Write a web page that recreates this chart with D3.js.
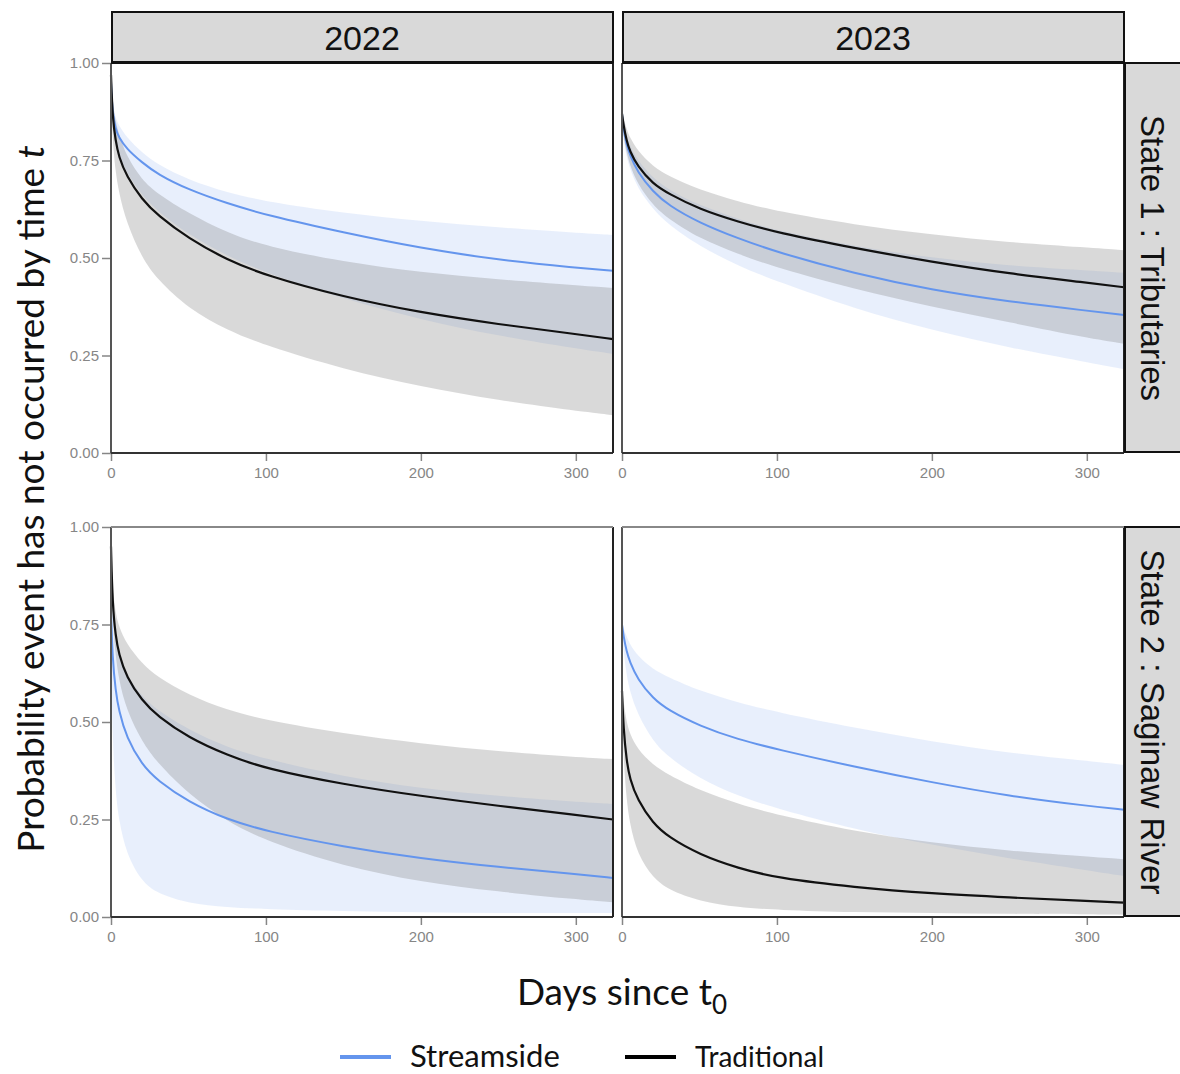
<!DOCTYPE html>
<html>
<head>
<meta charset="utf-8">
<script src="https://cdn.jsdelivr.net/npm/d3@7"></script>
<style>
  body { margin: 0; background: #fff; }
  svg { display: block; }
  .tick text { fill: #868686; font-family: "Liberation Sans", Arial, sans-serif; font-size: 15px; }
  .tick line { stroke: #868686; stroke-width: 1.5; }
</style>
</head>
<body>
<svg id="chart" width="1180" height="1074"></svg>
<script>
var days = [0, 1, 3, 5, 10, 20, 30, 50, 75, 100, 150, 200, 250, 300, 324];

var years = ["2022", "2023"];
var states = ["State 1 : Tributaries", "State 2 : Saginaw River"];
var xTicks = [0, 100, 200, 300];
var yTicks = [0, 0.25, 0.5, 0.75, 1];

// State 1, 2022
var s1y22Stream   = [0.95, 0.87, 0.83, 0.81, 0.78, 0.745, 0.715, 0.675, 0.64, 0.61, 0.565, 0.525, 0.495, 0.475, 0.467];
var s1y22StreamHi = [0.96, 0.89, 0.86, 0.84, 0.81, 0.77, 0.74, 0.70, 0.668, 0.645, 0.615, 0.595, 0.578, 0.565, 0.559];
var s1y22StreamLo = [0.93, 0.83, 0.79, 0.76, 0.72, 0.66, 0.62, 0.56, 0.505, 0.462, 0.395, 0.342, 0.30, 0.268, 0.254];
var s1y22Trad     = [0.97, 0.86, 0.80, 0.76, 0.71, 0.65, 0.61, 0.55, 0.495, 0.455, 0.40, 0.36, 0.33, 0.305, 0.292];
var s1y22TradHi   = [0.98, 0.90, 0.85, 0.82, 0.76, 0.70, 0.665, 0.615, 0.565, 0.53, 0.49, 0.463, 0.445, 0.43, 0.423];
var s1y22TradLo   = [0.95, 0.80, 0.72, 0.67, 0.59, 0.50, 0.445, 0.37, 0.315, 0.275, 0.215, 0.17, 0.135, 0.108, 0.097];

// State 1, 2023
var s1y23Stream   = [0.87, 0.83, 0.79, 0.765, 0.72, 0.67, 0.635, 0.59, 0.55, 0.515, 0.46, 0.418, 0.388, 0.365, 0.354];
var s1y23StreamHi = [0.88, 0.85, 0.81, 0.79, 0.75, 0.705, 0.675, 0.635, 0.60, 0.57, 0.53, 0.50, 0.48, 0.468, 0.462];
var s1y23StreamLo = [0.86, 0.80, 0.76, 0.73, 0.68, 0.625, 0.585, 0.53, 0.48, 0.44, 0.37, 0.315, 0.27, 0.233, 0.215];
var s1y23Trad     = [0.87, 0.84, 0.80, 0.775, 0.735, 0.69, 0.665, 0.625, 0.593, 0.565, 0.525, 0.49, 0.46, 0.437, 0.425];
var s1y23TradHi   = [0.88, 0.86, 0.83, 0.81, 0.775, 0.735, 0.71, 0.675, 0.645, 0.62, 0.585, 0.56, 0.54, 0.527, 0.52];
var s1y23TradLo   = [0.86, 0.81, 0.77, 0.74, 0.69, 0.635, 0.60, 0.55, 0.51, 0.475, 0.42, 0.375, 0.335, 0.295, 0.28];

// State 2, 2022
var s2y22Stream   = [0.79, 0.66, 0.58, 0.53, 0.46, 0.39, 0.35, 0.295, 0.25, 0.22, 0.18, 0.15, 0.128, 0.11, 0.10];
var s2y22StreamHi = [0.80, 0.74, 0.70, 0.67, 0.62, 0.565, 0.53, 0.48, 0.435, 0.405, 0.36, 0.33, 0.31, 0.295, 0.29];
var s2y22StreamLo = [0.70, 0.45, 0.32, 0.25, 0.16, 0.09, 0.06, 0.035, 0.025, 0.02, 0.015, 0.012, 0.01, 0.01, 0.01];
var s2y22Trad     = [0.95, 0.80, 0.72, 0.675, 0.615, 0.555, 0.515, 0.46, 0.415, 0.38, 0.34, 0.31, 0.285, 0.262, 0.25];
var s2y22TradHi   = [0.97, 0.84, 0.78, 0.745, 0.70, 0.65, 0.615, 0.57, 0.53, 0.505, 0.47, 0.445, 0.425, 0.41, 0.405];
var s2y22TradLo   = [0.93, 0.76, 0.67, 0.61, 0.53, 0.45, 0.395, 0.315, 0.245, 0.195, 0.13, 0.09, 0.065, 0.045, 0.038];

// State 2, 2023
var s2y23Stream   = [0.75, 0.72, 0.68, 0.655, 0.61, 0.56, 0.53, 0.49, 0.455, 0.43, 0.385, 0.345, 0.31, 0.285, 0.275];
var s2y23StreamHi = [0.76, 0.74, 0.72, 0.70, 0.67, 0.635, 0.615, 0.58, 0.55, 0.525, 0.485, 0.45, 0.42, 0.40, 0.39];
var s2y23StreamLo = [0.74, 0.68, 0.62, 0.58, 0.52, 0.45, 0.41, 0.355, 0.31, 0.278, 0.225, 0.185, 0.15, 0.12, 0.105];
var s2y23Trad     = [0.58, 0.48, 0.40, 0.355, 0.30, 0.24, 0.205, 0.16, 0.125, 0.10, 0.076, 0.06, 0.05, 0.041, 0.037];
var s2y23TradHi   = [0.60, 0.55, 0.50, 0.47, 0.43, 0.39, 0.365, 0.325, 0.29, 0.262, 0.22, 0.19, 0.17, 0.155, 0.148];
var s2y23TradLo   = [0.55, 0.40, 0.30, 0.24, 0.16, 0.10, 0.07, 0.04, 0.025, 0.018, 0.012, 0.01, 0.008, 0.007, 0.006];

var blue = "#6495ed";

// panel table built from the arrays above
var panels = [
  { row: 0, col: 0, stream: s1y22Stream, streamHi: s1y22StreamHi, streamLo: s1y22StreamLo, trad: s1y22Trad, tradHi: s1y22TradHi, tradLo: s1y22TradLo },
  { row: 0, col: 1, stream: s1y23Stream, streamHi: s1y23StreamHi, streamLo: s1y23StreamLo, trad: s1y23Trad, tradHi: s1y23TradHi, tradLo: s1y23TradLo },
  { row: 1, col: 0, stream: s2y22Stream, streamHi: s2y22StreamHi, streamLo: s2y22StreamLo, trad: s2y22Trad, tradHi: s2y22TradHi, tradLo: s2y22TradLo },
  { row: 1, col: 1, stream: s2y23Stream, streamHi: s2y23StreamHi, streamLo: s2y23StreamLo, trad: s2y23Trad, tradHi: s2y23TradHi, tradLo: s2y23TradLo }
];

var svg = d3.select("#chart");

// panel geometry
var colX = [111, 622];
var rowY = [63, 527];
var pw = 502, ph = 390;

var x = d3.scaleLinear().domain([0, 324]).range([0, pw]);
var y = d3.scaleLinear().domain([0, 1]).range([ph, 0]);

var lineGen = d3.line()
  .x(function (d) { return x(d[0]) })
  .y(function (d) { return y(d[1]) })
  .curve(d3.curveBasis);

var areaGen = d3.area()
  .x(function (d) { return x(d[0]) })
  .y0(function (d) { return y(d[1]) })
  .y1(function (d) { return y(d[2]) })
  .curve(d3.curveBasis);

panels.forEach(function (p) {
  var g = svg.append("g").attr("transform", "translate(" + colX[p.col] + "," + rowY[p.row] + ")");

  var streamBand = days.map(function (d, i) { return [d, p.streamLo[i], p.streamHi[i]] });
  var tradBand = days.map(function (d, i) { return [d, p.tradLo[i], p.tradHi[i]] });

  g.append("path").attr("d", areaGen(streamBand))
    .attr("fill", blue).attr("fill-opacity", 0.15);
  g.append("path").attr("d", areaGen(tradBand))
    .attr("fill", "#808080").attr("fill-opacity", 0.3);

  g.append("path").attr("d", lineGen(days.map(function (d, i) { return [d, p.stream[i]] })))
    .attr("fill", "none").attr("stroke", blue).attr("stroke-width", 2);
  g.append("path").attr("d", lineGen(days.map(function (d, i) { return [d, p.trad[i]] })))
    .attr("fill", "none").attr("stroke", "#111").attr("stroke-width", 2.2);

  // axes
  var ax = g.append("g").attr("transform", "translate(0," + ph + ")")
    .call(d3.axisBottom(x).tickValues(xTicks).tickSize(8).tickPadding(6));
  ax.select(".domain").remove();
  if (p.col == 0) {
    var ay = g.append("g")
      .call(d3.axisLeft(y).tickValues(yTicks).tickFormat(d3.format(".2f")).tickSize(9).tickPadding(3));
    ay.select(".domain").remove();
  }

  // panel borders
  g.append("line").attr("x1", 0).attr("x2", 0).attr("y1", 0).attr("y2", ph)
    .attr("stroke", "#555").attr("stroke-width", 2);
  g.append("line").attr("x1", 0).attr("x2", pw).attr("y1", ph).attr("y2", ph)
    .attr("stroke", "#333").attr("stroke-width", 2);
  g.append("line").attr("x1", pw).attr("x2", pw).attr("y1", 0).attr("y2", ph)
    .attr("stroke", "#222").attr("stroke-width", 2);
  g.append("line").attr("x1", 0).attr("x2", pw).attr("y1", 0).attr("y2", 0)
    .attr("stroke", p.row == 0 ? "#111" : "#888").attr("stroke-width", 2);
});

// top strips
years.forEach(function (yr, i) {
  svg.append("rect").attr("x", colX[i] + 1).attr("y", 12).attr("width", pw - 1).attr("height", 50)
    .attr("fill", "#d9d9d9").attr("stroke", "#111").attr("stroke-width", 2);
  svg.append("text").attr("x", colX[i] + pw / 2).attr("y", 50)
    .attr("text-anchor", "middle")
    .style("font-family", "'Liberation Sans', Arial, sans-serif").style("font-size", "34px").style("fill", "#111")
    .text(yr);
});

// right strips
states.forEach(function (st, i) {
  svg.append("rect").attr("x", 1125).attr("y", rowY[i]).attr("width", 70).attr("height", ph - 1)
    .attr("fill", "#d9d9d9").attr("stroke", "#111").attr("stroke-width", 2);
  svg.append("text")
    .attr("transform", "translate(1141," + (rowY[i] + ph / 2) + ") rotate(90)")
    .attr("text-anchor", "middle")
    .style("font-family", "'Liberation Sans', Arial, sans-serif").style("font-size", "33px").style("fill", "#111")
    .text(st);
});

// axis titles
var yTitle = svg.append("text")
  .attr("transform", "translate(44,499) rotate(-90)")
  .attr("text-anchor", "middle")
  .style("font-family", "Lato, sans-serif").style("font-size", "37px").style("fill", "#111");
yTitle.append("tspan").text("Probability event has not occurred by time ");
yTitle.append("tspan").style("font-style", "italic").text("t");

var xTitle = svg.append("text")
  .attr("x", 622).attr("y", 1005)
  .attr("text-anchor", "middle")
  .style("font-family", "Lato, sans-serif").style("font-size", "37px").style("fill", "#111");
xTitle.append("tspan").text("Days since t");
xTitle.append("tspan").attr("dy", 9).style("font-size", "26px").text("0");

// legend
var legendItems = [
  { label: "Streamside", color: blue, x: 340, size: 31 },
  { label: "Traditional", color: "#000", x: 625, size: 28 }
];
legendItems.forEach(function (it) {
  svg.append("line").attr("x1", it.x).attr("x2", it.x + 51).attr("y1", 1057).attr("y2", 1057)
    .attr("stroke", it.color).attr("stroke-width", 4);
  svg.append("text").attr("x", it.x + 70).attr("y", 1067)
    .style("font-family", "Lato, sans-serif").style("font-size", it.size + "px").style("fill", "#111")
    .text(it.label);
});
</script>
</body>
</html>
